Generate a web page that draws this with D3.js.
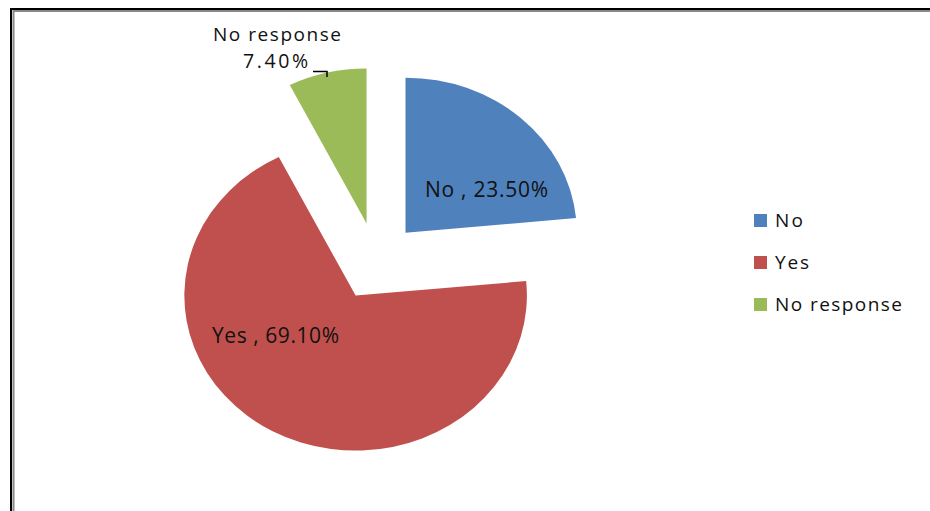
<!DOCTYPE html>
<html><head><meta charset="utf-8">
<script src="https://cdn.jsdelivr.net/npm/d3@7"></script>
<style>body{margin:0;background:#fff;} svg{display:block;} text{font-family:"Open Sans","Liberation Sans",sans-serif;fill:#111;}</style>
</head><body>
<svg id="c" width="930" height="511"></svg>
<script>
const categories = ["No", "Yes", "No response"];
const values = [23.5, 69.1, 7.4];
const labels = ["No , 23.50%", "Yes , 69.10%", "No response\n7.40%"];
const colors = ["#4F81BD", "#C0504D", "#9BBB59"];

const svg = d3.select("#c");
// frame
svg.append("rect").attr("x",11).attr("y",9).attr("width",940).attr("height",520).attr("fill","none").attr("stroke","#000").attr("stroke-width",2);
svg.append("rect").attr("x",13.5).attr("y",11).attr("width",940).attr("height",520).attr("fill","none").attr("stroke","#888").attr("stroke-width",2);

const cx = 376.5, cy = 261.5, r = 155, sx = 1.105, explode = 39;
const pie = d3.pie().sort(null).value(d => d)(values);
const arc = d3.arc().innerRadius(0).outerRadius(r);
const g = svg.append("g").attr("transform", `translate(${cx},${cy}) scale(${sx},1)`);
pie.forEach((p, i) => {
  const mid = (p.startAngle + p.endAngle) / 2;
  const dx = Math.sin(mid) * explode, dy = -Math.cos(mid) * explode;
  g.append("path").attr("d", arc(p)).attr("fill", colors[i])
    .attr("transform", `translate(${dx},${dy})`);
});

function label(txt, x, y, fs, w, anchor) {
  return svg.append("text").attr("x", x).attr("y", y).attr("font-size", fs)
    .attr("text-anchor", anchor || "start")
    .attr("textLength", w).attr("lengthAdjust", "spacing").text(txt);
}
// data labels
label(labels[0], 425, 197, 21, 123);
label(labels[1], 212, 343, 21, 127);
const l3 = labels[2].split("\n");
label(l3[0], 213, 41, 19, 128);
label(l3[1], 243, 68, 19.5, 65);
svg.append("path").attr("d","M313,71.5H327V77").attr("fill","none").attr("stroke","#000").attr("stroke-width",1.5);

// legend
const ly = d3.scalePoint().domain(categories).range([220.5, 304.5]);
const lw = {"No": 28, "Yes": 34, "No response": 127};
categories.forEach((c, i) => {
  svg.append("rect").attr("x", 754).attr("y", ly(c) - 6.5).attr("width", 13).attr("height", 13).attr("fill", colors[i]);
  label(c, 775, ly(c) + 6.5, 19, lw[c]);
});
</script>
</body></html>
